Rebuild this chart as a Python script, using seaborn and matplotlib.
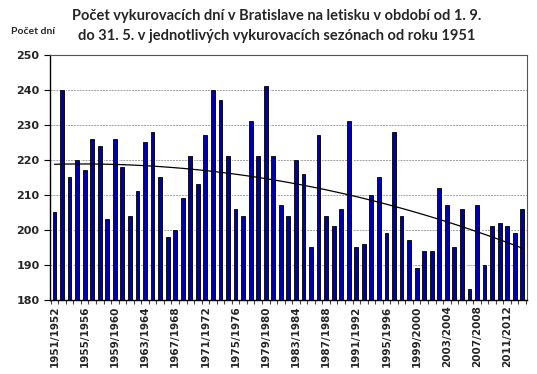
import numpy as np
import pandas as pd
import matplotlib
matplotlib.use("Agg")
import matplotlib.pyplot as plt
import seaborn as sns

# ============================================================
# DATA
# ============================================================

start_years = list(range(1951, 2014))
seasons = [f"{y}/{y + 1}" for y in start_years]

days = [205, 240, 215, 220, 217, 226, 224, 203, 226, 218,
        204, 211, 225, 228, 215, 198, 200, 209, 221, 213,
        227, 240, 237, 221, 206, 204, 231, 221, 241, 221,
        207, 204, 220, 216, 195, 227, 204, 201, 206, 231,
        195, 196, 210, 215, 199, 228, 204, 197, 189, 194,
        194, 212, 207, 195, 206, 183, 207, 190, 201, 202,
        201, 199, 206]

y_ticks = list(range(180, 251, 10))

title = ("Počet vykurovacích dní v Bratislave na letisku v období od 1. 9.\n"
         "do 31. 5. v jednotlivých vykurovacích sezónach od roku 1951")

df = pd.DataFrame({"season": seasons, "days": days})

# polynomial (2nd order) trend, as in the spreadsheet chart
idx = np.arange(len(df))
coef = np.polyfit(idx, df["days"], 2)
df["trend"] = np.polyval(coef, idx)

# ============================================================
# PLOT
# ============================================================

sns.set_style("white")
plt.rcParams["font.family"] = ["DejaVu Sans"]

fig = plt.figure(figsize=(5.37, 3.74), dpi=100)
ax = fig.add_axes([0.093, 0.198, 0.888, 0.655])

# grey drop shadow behind bars
ax.bar(idx + 0.13, df["days"], width=0.5, color="#9a9a9a", zorder=1)

sns.barplot(data=df, x="season", y="days", color="#0000a8",
            saturation=1, width=0.5, edgecolor="black", linewidth=0.6,
            ax=ax, zorder=2)

ax.plot(idx, df["trend"], color="black", linewidth=0.9, zorder=3)

ax.set_ylim(180, 250)
ax.set_xlim(-0.6, len(df) - 0.4)
ax.set_yticks(y_ticks)
ax.set_yticklabels([str(t) for t in y_ticks], fontsize=8, fontweight="bold")

ax.set_xticks(idx[::4])
ax.set_xticklabels(df["season"][::4], rotation=90, fontsize=7.5,
                   fontweight="bold")
ax.set_xticks(np.arange(-0.5, len(df), 1), minor=True)
ax.tick_params(axis="x", which="major", length=0, pad=4)
ax.tick_params(axis="x", which="minor", length=3, width=0.8, direction="out",
               bottom=True, color="#444444")
ax.tick_params(axis="y", length=4, width=0.8, direction="out", left=True,
               color="black")

ax.yaxis.grid(True, linestyle=(0, (2, 1)), color="#a0a0a0", linewidth=0.7)
ax.set_axisbelow(True)

for side in ["left", "bottom"]:
    ax.spines[side].set_color("black")
    ax.spines[side].set_linewidth(1.0)
for side in ["top", "right"]:
    ax.spines[side].set_color("#555555")
    ax.spines[side].set_linewidth(0.8)

ax.set_xlabel("")
ax.set_ylabel("")

fig.text(0.516, 0.975, title, ha="center", va="top", fontsize=10.5,
         fontweight="bold", family=["Lato", "DejaVu Sans"], linespacing=1.5)
fig.text(0.02, 0.915, "Počet dní", ha="left", va="center", fontsize=7.5,
         fontweight="bold", family=["Lato", "DejaVu Sans"])

fig.savefig("out.png", dpi=100)
